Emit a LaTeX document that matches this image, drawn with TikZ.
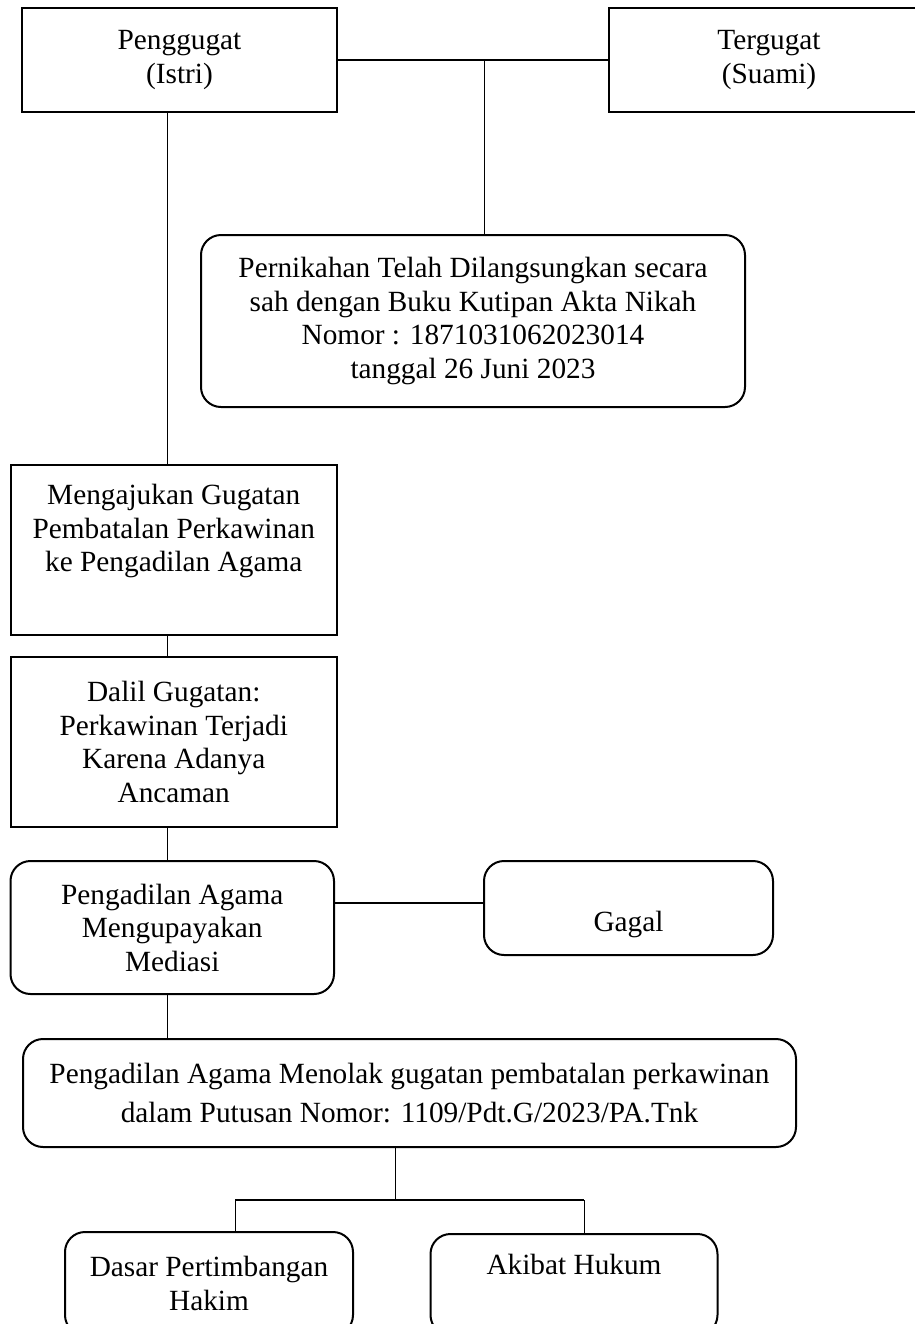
\documentclass[tikz,border=0pt]{standalone}
\usepackage{fontspec}
\setmainfont{Liberation Serif}
\tikzset{
  kotak/.style={draw, line width=1pt, inner sep=0pt, align=center, font=\fontsize{14.65}{16.75}\selectfont},
  bulat/.style={kotak, rounded corners=10pt},
  tipis/.style={line width=0.5pt},
  tebal/.style={line width=1pt}
}

\begin{document}
\begin{tikzpicture}[x=0.5pt,y=-0.5pt]
   \useasboundingbox (0,0) rectangle (915,1324);
   \clip (0,0) rectangle (915,1324);
   \node[kotak, minimum width=157.5pt, minimum height=52pt] (pgt) at (179.5,60) {Penggugat\\(Istri)};
   \node[kotak, minimum width=160pt, minimum height=52pt] (tgt) at (769,60) {Tergugat\\(Suami)};
   \node[bulat, minimum width=272pt, minimum height=86pt] (nikah) at (473,321) {Pernikahan Telah Dilangsungkan secara\\sah dengan Buku Kutipan Akta Nikah\\Nomor : 1871031062023014\\tanggal 26 Juni 2023};
   \node[kotak, minimum width=163.25pt, minimum height=85pt] (ajukan) at (173.75,550) {Mengajukan Gugatan\\Pembatalan Perkawinan\\ke Pengadilan Agama\\\strut};
   \node[kotak, minimum width=163.25pt, minimum height=85pt] (dalil) at (173.75,742) {Dalil Gugatan:\\Perkawinan Terjadi\\Karena Adanya\\Ancaman};
   \node[bulat, minimum width=161.75pt, minimum height=66.5pt] (mediasi) at (172.25,927.5) {Pengadilan Agama\\Mengupayakan\\Mediasi};
   \node[bulat, minimum width=144.5pt, minimum height=47pt] (gagal) at (628.5,908) {\strut\\\strut Gagal};
   \node[bulat, minimum width=386.5pt, minimum height=54pt, font=\fontsize{14.65}{19.15}\selectfont] (tolak) at (409.5,1093) {Pengadilan Agama Menolak gugatan pembatalan perkawinan\\dalam Putusan Nomor: 1109/Pdt.G/2023/PA.Tnk};
   \node[bulat, minimum width=144pt, minimum height=51.5pt] (dasar) at (209,1283.5) {Dasar Pertimbangan\\Hakim};
   \node[bulat, minimum width=143.5pt, minimum height=50.5pt] (akibat) at (574,1284.5) {Akibat Hukum\strut\\\strut};
   \coordinate (tulang) at (167,0);
   \coordinate (simpul) at (484,0);
   \coordinate (cabang) at (395,1200);
   \coordinate (cabangL) at (235,1200);
   \coordinate (cabangR) at (584,1200);
   \draw[tebal] (pgt.east) -- (tgt.west);
   \draw[tipis] (simpul |- pgt.east) -- (simpul |- nikah.north);
   \draw[tipis] (tulang |- pgt.south) -- (tulang |- ajukan.north);
   \draw[tipis] (tulang |- ajukan.south) -- (tulang |- dalil.north);
   \draw[tipis] (tulang |- dalil.south) -- (tulang |- mediasi.north);
   \draw[tipis] (tulang |- mediasi.south) -- (tulang |- tolak.north);
   \draw[tebal] ([yshift=2.5pt]gagal.west -| mediasi.east) -- ([yshift=2.5pt]gagal.west);
   \draw[tipis] (cabang |- tolak.south) -- (cabang);
   \draw[tebal] (cabangL) -- (cabangR);
   \draw[tipis] (cabangL) -- (cabangL |- dasar.north);
   \draw[tipis] (cabangR) -- (cabangR |- akibat.north);
\end{tikzpicture}
\end{document}
